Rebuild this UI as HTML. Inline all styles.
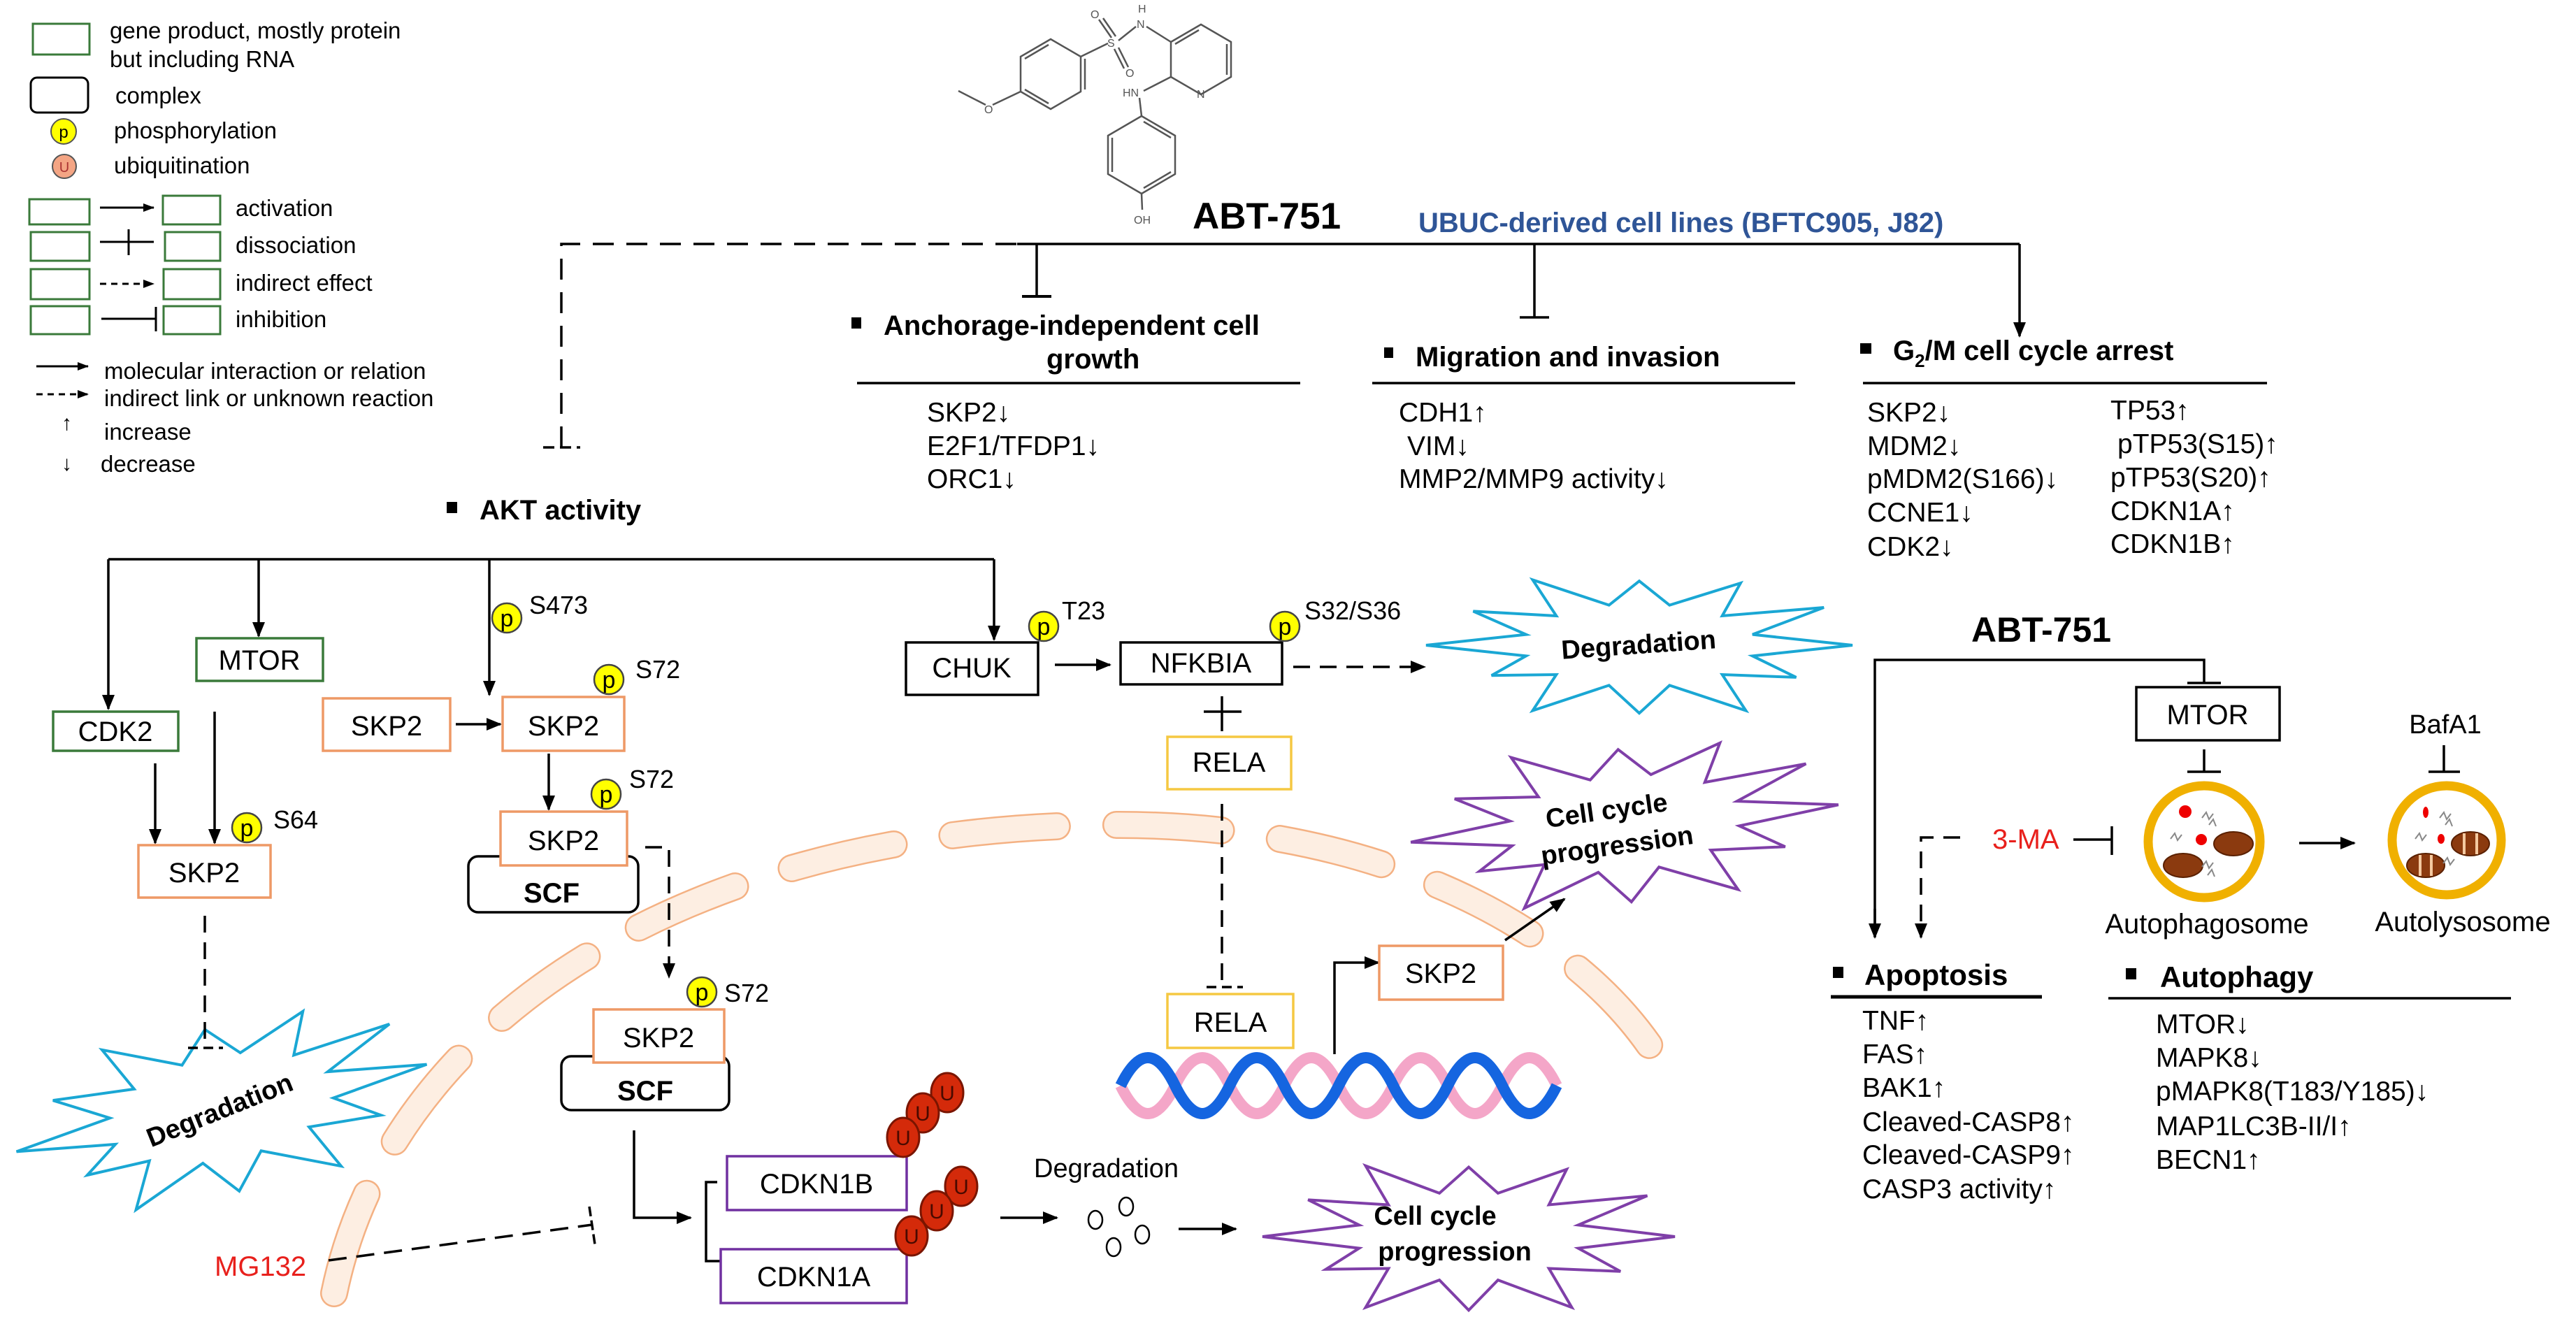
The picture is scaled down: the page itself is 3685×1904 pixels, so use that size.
<!DOCTYPE html>
<html><head><meta charset="utf-8"><style>
html,body{margin:0;padding:0;background:#fff;}
svg{display:block;}
text{font-family:"Liberation Sans",Arial,sans-serif;}
</style></head><body>
<svg width="3685" height="1904" viewBox="0 0 3685 1904" xmlns="http://www.w3.org/2000/svg">
<defs>
<marker id="a" markerWidth="22" markerHeight="18" refX="20" refY="9" orient="auto" markerUnits="userSpaceOnUse"><path d="M0,0 L22,9 L0,18z" fill="#000"/></marker>
<marker id="s" markerWidth="16" markerHeight="12" refX="15" refY="6" orient="auto" markerUnits="userSpaceOnUse"><path d="M0,0 L16,6 L0,12z" fill="#000"/></marker>
</defs>
<rect width="3685" height="1904" fill="#fff"/>

<!-- LEGEND -->
<g font-size="33" fill="#000">
<rect x="47" y="34" width="81" height="44" fill="none" stroke="#3a7a3a" stroke-width="3"/>
<text x="157" y="55">gene product, mostly protein</text>
<text x="157" y="96">but including RNA</text>
<rect x="44" y="111" width="82" height="50" rx="9" fill="none" stroke="#000" stroke-width="3"/>
<text x="165" y="148">complex</text>
<circle cx="91" cy="188" r="18" fill="#ffff00" stroke="#555" stroke-width="2"/>
<text x="91" y="197" font-size="24" text-anchor="middle">p</text>
<text x="163" y="198">phosphorylation</text>
<circle cx="92" cy="238" r="17" fill="#f4a584" stroke="#555" stroke-width="2"/>
<text x="92" y="246" font-size="20" text-anchor="middle" fill="#a33">U</text>
<text x="163" y="248">ubiquitination</text>
<g fill="none" stroke="#3a7a3a" stroke-width="3">
<rect x="42" y="285" width="86" height="36"/><rect x="233" y="280" width="82" height="41"/>
<rect x="44" y="332" width="84" height="41"/><rect x="236" y="332" width="79" height="41"/>
<rect x="44" y="385" width="84" height="43"/><rect x="234" y="385" width="81" height="43"/>
<rect x="44" y="438" width="84" height="40"/><rect x="234" y="438" width="81" height="40"/>
</g>
<g stroke="#000" stroke-width="3" fill="none">
<line x1="143" y1="297" x2="220" y2="297" marker-end="url(#s)"/>
<line x1="143" y1="346" x2="220" y2="346"/><line x1="184" y1="328" x2="184" y2="365"/>
<line x1="143" y1="406" x2="220" y2="406" stroke-dasharray="9 7" marker-end="url(#s)"/>
<line x1="145" y1="456" x2="223" y2="456"/><line x1="223" y1="439" x2="223" y2="474"/>
<line x1="52" y1="524" x2="126" y2="524" marker-end="url(#s)"/>
<line x1="52" y1="564" x2="126" y2="564" stroke-dasharray="9 7" marker-end="url(#s)"/>
</g>
<text x="337" y="309">activation</text>
<text x="337" y="362">dissociation</text>
<text x="337" y="416">indirect effect</text>
<text x="337" y="468">inhibition</text>
<text x="149" y="542">molecular interaction or relation</text>
<text x="149" y="581">indirect link or unknown reaction</text>
<text x="88" y="615" font-size="30">↑</text>
<text x="149" y="629">increase</text>
<text x="88" y="673" font-size="30">↓</text>
<text x="144" y="675">decrease</text>
</g>

<!-- MOLECULE -->
<g stroke="#555" stroke-width="2.5" fill="none">
<polygon points="1503,56 1546,81 1546,131 1503,156 1460,131 1460,81"/>
<line x1="1552" y1="84" x2="1552" y2="128"/>
<line x1="1466" y1="84" x2="1500" y2="64"/>
<line x1="1466" y1="128" x2="1500" y2="148"/>
<line x1="1546" y1="81" x2="1585" y2="62"/>
<line x1="1590" y1="54" x2="1572" y2="28"/><line x1="1596" y1="52" x2="1578" y2="26"/>
<line x1="1594" y1="70" x2="1608" y2="98"/><line x1="1600" y1="68" x2="1614" y2="96"/>
<line x1="1600" y1="58" x2="1625" y2="38"/>
<line x1="1640" y1="38" x2="1675" y2="60"/>
<polygon points="1718,35 1761,60 1761,110 1718,135 1675,110 1675,60"/>
<line x1="1681" y1="63" x2="1715" y2="43"/><line x1="1755" y1="63" x2="1755" y2="107"/>
<line x1="1675" y1="110" x2="1636" y2="130"/>
<line x1="1630" y1="140" x2="1633" y2="166"/>
<polygon points="1633,166 1681,194 1681,249 1633,277 1585,249 1585,194"/>
<line x1="1591" y1="197" x2="1591" y2="246"/><line x1="1636" y1="174" x2="1675" y2="197"/>
<line x1="1636" y1="269" x2="1675" y2="246"/>
<line x1="1633" y1="277" x2="1634" y2="300"/>
<line x1="1460" y1="131" x2="1420" y2="150"/>
<line x1="1410" y1="150" x2="1371" y2="130"/>
</g>
<g font-size="16" fill="#555">
<text x="1584" y="67">S</text><text x="1560" y="26">O</text><text x="1610" y="110">O</text>
<text x="1628" y="18">H</text><text x="1626" y="40">N</text>
<text x="1606" y="138">HN</text><text x="1712" y="140">N</text>
<text x="1408" y="162">O</text><text x="1622" y="320">OH</text>
</g>

<!-- TOP BRANCHES -->
<text x="1706" y="327" font-size="53" font-weight="bold">ABT-751</text>
<text x="2029" y="332" font-size="40" font-weight="bold" fill="#2f5597">UBUC-derived cell lines (BFTC905, J82)</text>
<g stroke="#000" stroke-width="3.5" fill="none">
<path d="M803,640 L803,349 L1455,349" stroke-dasharray="30 18"/>
<line x1="777" y1="640" x2="830" y2="640" stroke-dasharray="16 8"/>
<line x1="1455" y1="349" x2="2889" y2="349"/>
<line x1="1483" y1="349" x2="1483" y2="424"/><line x1="1462" y1="424" x2="1504" y2="424" stroke-width="4"/>
<line x1="2195" y1="349" x2="2195" y2="454"/><line x1="2174" y1="454" x2="2216" y2="454"/>
<line x1="2889" y1="349" x2="2889" y2="481" marker-end="url(#a)"/>
<line x1="1226" y1="548" x2="1860" y2="548"/>
<line x1="1963" y1="548" x2="2568" y2="548"/>
<line x1="2665" y1="548" x2="3243" y2="548"/>
</g>
<g font-size="40" font-weight="bold">
<rect x="1218" y="454" width="14" height="16"/>
<text x="1264" y="479">Anchorage-independent  cell</text>
<text x="1497" y="527">growth</text>
<rect x="1980" y="497" width="13" height="15"/>
<text x="2025" y="524">Migration and invasion</text>
<rect x="2661" y="491" width="16" height="15"/>
<text x="2708" y="515">G<tspan font-size="26" dy="10">2</tspan><tspan dy="-10">/M cell cycle arrest</tspan></text>
</g>
<g font-size="39">
<text x="1326" y="603">SKP2↓</text><text x="1326" y="651">E2F1/TFDP1↓</text><text x="1326" y="698">ORC1↓</text>
<text x="2001" y="603">CDH1↑</text><text x="2013" y="651">VIM↓</text><text x="2001" y="698">MMP2/MMP9 activity↓</text>
<text x="2671" y="603">SKP2↓</text><text x="2671" y="651">MDM2↓</text><text x="2671" y="698">pMDM2(S166)↓</text><text x="2671" y="746">CCNE1↓</text><text x="2671" y="795">CDK2↓</text>
<text x="3019" y="600">TP53↑</text><text x="3029" y="648">pTP53(S15)↑</text><text x="3019" y="696">pTP53(S20)↑</text><text x="3019" y="744">CDKN1A↑</text><text x="3019" y="791">CDKN1B↑</text>
</g>

<!-- AKT -->
<rect x="639" y="718" width="15" height="16"/>
<text x="686" y="743" font-size="40" font-weight="bold">AKT activity</text>

<!-- starbursts -->
<g transform="translate(317,1585) rotate(-12) scale(300,135)"><polygon vector-effect="non-scaling-stroke" fill="#fff" stroke="#1aa7d4" stroke-width="4" points="1,0 .531,.142 .736,.425 .389,.389 .5,.866 .142,.531 0,.9 -.142,.531 -.5,.866 -.389,.389 -.693,.4 -.531,.142 -1,0 -.531,-.142 -.779,-.45 -.389,-.389 -.5,-.866 -.142,-.531 0,-.85 .142,-.531 .475,-.823 .389,-.389 .866,-.5 .531,-.142"/></g>
<g transform="translate(2345,923) scale(305,108)"><polygon vector-effect="non-scaling-stroke" fill="#fff" stroke="#1aa7d4" stroke-width="4" points="1,0 .531,.142 .736,.425 .389,.389 .5,.866 .142,.531 0,.9 -.142,.531 -.5,.866 -.389,.389 -.693,.4 -.531,.142 -1,0 -.531,-.142 -.779,-.45 -.389,-.389 -.5,-.866 -.142,-.531 0,-.85 .142,-.531 .475,-.823 .389,-.389 .866,-.5 .531,-.142"/></g>
<g transform="translate(2324,1178) rotate(-5) scale(307,125)"><polygon vector-effect="non-scaling-stroke" fill="#fff" stroke="#7f3fa8" stroke-width="4" points="1,0 .531,.142 .736,.425 .389,.389 .5,.866 .142,.531 0,.9 -.142,.531 -.5,.866 -.389,.389 -.693,.4 -.531,.142 -1,0 -.531,-.142 -.779,-.45 -.389,-.389 -.5,-.866 -.142,-.531 0,-.85 .142,-.531 .475,-.823 .389,-.389 .866,-.5 .531,-.142"/></g>
<g transform="translate(2101,1769) scale(295,117)"><polygon vector-effect="non-scaling-stroke" fill="#fff" stroke="#7f3fa8" stroke-width="4" points="1,0 .531,.142 .736,.425 .389,.389 .5,.866 .142,.531 0,.9 -.142,.531 -.5,.866 -.389,.389 -.693,.4 -.531,.142 -1,0 -.531,-.142 -.779,-.45 -.389,-.389 -.5,-.866 -.142,-.531 0,-.85 .142,-.531 .475,-.823 .389,-.389 .866,-.5 .531,-.142"/></g>

<!-- nuclear envelope -->
<path d="M478,1850 C560,1450 1000,1180 1600,1180 C2000,1180 2300,1350 2400,1565" fill="none" stroke="#f4b183" stroke-width="40" stroke-linecap="round" stroke-dasharray="150 85"/>
<path d="M478,1850 C560,1450 1000,1180 1600,1180 C2000,1180 2300,1350 2400,1565" fill="none" stroke="#fdeee2" stroke-width="35" stroke-linecap="round" stroke-dasharray="150 85"/>

<text transform="translate(319,1600) rotate(-22)" font-size="38" font-weight="bold" text-anchor="middle">Degradation</text>
<text transform="translate(2345,935) rotate(-4)" font-size="38" font-weight="bold" text-anchor="middle">Degradation</text>
<text transform="translate(2300,1172) rotate(-8)" font-size="38" font-weight="bold" text-anchor="middle">Cell cycle</text>
<text transform="translate(2315,1222) rotate(-8)" font-size="38" font-weight="bold" text-anchor="middle">progression</text>
<text x="2053" y="1752" font-size="38" font-weight="bold" text-anchor="middle">Cell cycle</text>
<text x="2081" y="1803" font-size="38" font-weight="bold" text-anchor="middle">progression</text>

<!-- DNA -->
<path d="M1603,1553 q39,80 78,0 t78,0 t78,0 t78,0 t78,0 t78,0 t78,0 t78,0" fill="none" stroke="#f4a6c8" stroke-width="16"/>
<path d="M1603,1553 q39,-80 78,0 t78,0 t78,0 t78,0 t78,0 t78,0 t78,0 t78,0" fill="none" stroke="#1565e0" stroke-width="16"/>

<!-- connectors -->
<g stroke="#000" stroke-width="3.5" fill="none">
<line x1="155" y1="800" x2="1422" y2="800"/>
<line x1="155" y1="800" x2="155" y2="1014" marker-end="url(#a)"/>
<line x1="370" y1="800" x2="370" y2="910" marker-end="url(#a)"/>
<line x1="700" y1="800" x2="700" y2="994" marker-end="url(#a)"/>
<line x1="1422" y1="800" x2="1422" y2="915" marker-end="url(#a)"/>
<line x1="222" y1="1092" x2="222" y2="1206" marker-end="url(#a)"/>
<line x1="307" y1="1018" x2="307" y2="1206" marker-end="url(#a)"/>
<line x1="652" y1="1036" x2="716" y2="1036" marker-end="url(#a)"/>
<line x1="785" y1="1078" x2="785" y2="1158" marker-end="url(#a)"/>
<line x1="293" y1="1310" x2="293" y2="1499" stroke-dasharray="24 14"/>
<line x1="269" y1="1499" x2="319" y2="1499" stroke-dasharray="14 8"/>
<path d="M923,1212 L957,1212 L957,1398" stroke-dasharray="24 14" marker-end="url(#a)"/>
<path d="M907,1617 L907,1742 L988,1742" marker-end="url(#a)"/>
<path d="M1026,1691 L1010,1691 L1010,1804 L1030,1804"/>
<line x1="470" y1="1803" x2="847" y2="1752" stroke-dasharray="26 14"/>
<line x1="843" y1="1726" x2="851" y2="1780" stroke-dasharray="14 6"/>
<line x1="1509" y1="951" x2="1588" y2="951" marker-end="url(#a)"/>
<line x1="1850" y1="954" x2="2038" y2="954" stroke-dasharray="24 14" marker-end="url(#a)"/>
<line x1="1748" y1="996" x2="1748" y2="1046"/><line x1="1722" y1="1018" x2="1776" y2="1018"/>
<line x1="1748" y1="1150" x2="1748" y2="1412" stroke-dasharray="24 14"/>
<line x1="1726" y1="1412" x2="1778" y2="1412" stroke-dasharray="14 8"/>
<path d="M1909,1508 L1909,1377 L1972,1377" marker-end="url(#a)"/>
<line x1="2153" y1="1345" x2="2238" y2="1286" marker-end="url(#a)"/>
<line x1="1431" y1="1742" x2="1512" y2="1742" marker-end="url(#a)"/>
<line x1="1686" y1="1758" x2="1768" y2="1758" marker-end="url(#a)"/>
<path d="M2682,1340 L2682,944 L3153,944 L3153,977"/>
<line x1="2682" y1="1300" x2="2682" y2="1341" marker-end="url(#a)"/>
<line x1="3129" y1="977" x2="3177" y2="977"/>
<line x1="3153" y1="1072" x2="3153" y2="1104"/><line x1="3129" y1="1104" x2="3177" y2="1104"/>
<line x1="3496" y1="1066" x2="3496" y2="1104"/><line x1="3474" y1="1104" x2="3519" y2="1104"/>
<line x1="2966" y1="1201" x2="3021" y2="1201"/><line x1="3021" y1="1182" x2="3021" y2="1223"/>
<path d="M2804,1198 L2748,1198 L2748,1341" stroke-dasharray="24 14" marker-end="url(#a)"/>
<line x1="3289" y1="1206" x2="3368" y2="1206" marker-end="url(#a)"/>
<line x1="2619" y1="1426" x2="2921" y2="1426" stroke-width="5"/>
<line x1="3016" y1="1428" x2="3592" y2="1428"/>
</g>

<!-- boxes -->
<g stroke-width="3.5" fill="#fff">
<rect x="281" y="913" width="181" height="61" stroke="#3a7a3a"/>
<rect x="76" y="1018" width="179" height="56" stroke="#3a7a3a"/>
<rect x="670" y="1225" width="243" height="80" rx="14" stroke="#000"/>
<rect x="803" y="1511" width="240" height="77" rx="14" stroke="#000"/>
<rect x="198" y="1209" width="189" height="75" stroke="#ee9966"/>
<rect x="462" y="999" width="182" height="75" stroke="#ee9966"/>
<rect x="719" y="997" width="174" height="77" stroke="#ee9966"/>
<rect x="716" y="1161" width="181" height="77" stroke="#ee9966"/>
<rect x="849" y="1444" width="187" height="76" stroke="#ee9966"/>
<rect x="1973" y="1353" width="177" height="77" stroke="#ee9966"/>
<rect x="1296" y="919" width="189" height="75" stroke="#000"/>
<rect x="1603" y="919" width="231" height="60" stroke="#000"/>
<rect x="1670" y="1054" width="177" height="75" stroke="#f5c842"/>
<rect x="1670" y="1422" width="180" height="77" stroke="#f5c842"/>
<rect x="1040" y="1654" width="257" height="77" stroke="#7030a0"/>
<rect x="1031" y="1787" width="266" height="77" stroke="#7030a0"/>
<rect x="3056" y="983" width="205" height="76" stroke="#000"/>
</g>
<g font-size="40" text-anchor="middle">
<text x="371" y="958">MTOR</text>
<text x="165" y="1060">CDK2</text>
<text x="292" y="1262">SKP2</text>
<text x="553" y="1052">SKP2</text>
<text x="806" y="1052">SKP2</text>
<text x="806" y="1216">SKP2</text>
<text x="942" y="1498">SKP2</text>
<text x="2061" y="1406">SKP2</text>
<text x="1390" y="969">CHUK</text>
<text x="1718" y="962">NFKBIA</text>
<text x="1758" y="1104">RELA</text>
<text x="1760" y="1476">RELA</text>
<text x="1168" y="1707">CDKN1B</text>
<text x="1164" y="1840">CDKN1A</text>
<text x="3158" y="1036">MTOR</text>
<text x="789" y="1291" font-weight="bold">SCF</text>
<text x="923" y="1574" font-weight="bold">SCF</text>
</g>

<!-- phospho circles -->
<g fill="#ffff00" stroke="#444" stroke-width="2.5">
<circle cx="725" cy="884" r="21"/><circle cx="871" cy="972" r="21"/><circle cx="867" cy="1136" r="21"/>
<circle cx="1004" cy="1419" r="21"/><circle cx="353" cy="1184" r="21"/>
<circle cx="1493" cy="896" r="21"/><circle cx="1838" cy="896" r="21"/>
</g>
<g font-size="34" text-anchor="middle">
<text x="725" y="896">p</text><text x="871" y="984">p</text><text x="867" y="1148">p</text>
<text x="1004" y="1431">p</text><text x="353" y="1196">p</text><text x="1493" y="908">p</text><text x="1838" y="908">p</text>
</g>
<g font-size="36">
<text x="757" y="878">S473</text><text x="909" y="970">S72</text><text x="900" y="1127">S72</text>
<text x="1036" y="1433">S72</text><text x="391" y="1185">S64</text>
<text x="1519" y="886">T23</text><text x="1866" y="886">S32/S36</text>
</g>

<!-- ubiquitin -->
<g fill="#d42a0a" stroke="#7a1500" stroke-width="3">
<ellipse cx="1355" cy="1563" rx="23" ry="28"/><ellipse cx="1320" cy="1592" rx="23" ry="28"/><ellipse cx="1292" cy="1627" rx="23" ry="28"/>
<ellipse cx="1375" cy="1697" rx="23" ry="28"/><ellipse cx="1340" cy="1732" rx="23" ry="28"/><ellipse cx="1304" cy="1768" rx="23" ry="28"/>
</g>
<g font-size="30" text-anchor="middle" fill="#4a0a00">
<text x="1355" y="1574">U</text><text x="1320" y="1603">U</text><text x="1292" y="1638">U</text>
<text x="1375" y="1708">U</text><text x="1340" y="1743">U</text><text x="1304" y="1779">U</text>
</g>

<text x="1479" y="1684" font-size="38">Degradation</text>
<g fill="none" stroke="#000" stroke-width="2.5">
<ellipse cx="1567" cy="1745" rx="10" ry="13"/><ellipse cx="1611" cy="1726" rx="10" ry="13"/>
<ellipse cx="1634" cy="1766" rx="10" ry="13"/><ellipse cx="1593" cy="1784" rx="10" ry="13"/>
</g>
<text x="307" y="1825" font-size="40" fill="#e8201c">MG132</text>

<!-- RIGHT SIDE -->
<text x="2820" y="918" font-size="50" font-weight="bold">ABT-751</text>
<text x="3498" y="1049" font-size="38" text-anchor="middle">BafA1</text>
<text x="2850" y="1214" font-size="40" fill="#e8201c">3-MA</text>
<circle cx="3153" cy="1204" r="80" fill="#fff" stroke="#f0b000" stroke-width="13"/>
<circle cx="3500" cy="1202" r="78" fill="#fff" stroke="#f0b000" stroke-width="13"/>
<g fill="#e00">
<circle cx="3126" cy="1161" r="9"/><circle cx="3149" cy="1201" r="8"/>
<ellipse cx="3470" cy="1162" rx="4" ry="8"/><ellipse cx="3492" cy="1200" rx="5" ry="7"/>
</g>
<g fill="#8b3a0f" stroke="#5a2000" stroke-width="2">
<ellipse cx="3195" cy="1207" rx="28" ry="17"/><ellipse cx="3123" cy="1238" rx="28" ry="17"/>
<ellipse cx="3534" cy="1207" rx="27" ry="17"/><ellipse cx="3470" cy="1238" rx="27" ry="17"/>
</g>
<g stroke="#f4c9a0" stroke-width="4">
<line x1="3525" y1="1192" x2="3525" y2="1222"/><line x1="3543" y1="1192" x2="3543" y2="1222"/>
<line x1="3462" y1="1223" x2="3462" y2="1253"/><line x1="3478" y1="1223" x2="3478" y2="1253"/>
</g>
<g fill="none" stroke="#888" stroke-width="2">
<path d="M3150,1170 l6,-8 l4,10 l6,-8 M3160,1180 l6,-8 l4,10"/>
<path d="M3105,1200 l6,-8 l4,10 l6,-8"/>
<path d="M3150,1240 l6,-8 l4,10 l6,-8 M3158,1252 l6,-8 l4,10"/>
<path d="M3490,1170 l6,-8 l4,10 l6,-8 M3498,1180 l6,-8 l4,10"/>
<path d="M3455,1200 l6,-8 l4,10 l6,-8"/>
<path d="M3495,1235 l6,-8 l4,10 l6,-8"/>
</g>
<text x="3157" y="1335" font-size="40" text-anchor="middle">Autophagosome</text>
<text x="3523" y="1332" font-size="40" text-anchor="middle">Autolysosome</text>

<rect x="2622" y="1383" width="15" height="16"/>
<text x="2667" y="1409" font-size="42" font-weight="bold">Apoptosis</text>
<rect x="3041" y="1385" width="15" height="16"/>
<text x="3090" y="1412" font-size="42" font-weight="bold">Autophagy</text>
<g font-size="39">
<text x="2664" y="1473">TNF↑</text><text x="2664" y="1521">FAS↑</text><text x="2664" y="1569">BAK1↑</text>
<text x="2664" y="1618">Cleaved-CASP8↑</text><text x="2664" y="1665">Cleaved-CASP9↑</text><text x="2664" y="1714">CASP3 activity↑</text>
<text x="3084" y="1478">MTOR↓</text><text x="3084" y="1526">MAPK8↓</text><text x="3084" y="1574">pMAPK8(T183/Y185)↓</text>
<text x="3084" y="1624">MAP1LC3B-II/I↑</text><text x="3084" y="1672">BECN1↑</text>
</g>
</svg>
</body></html>
